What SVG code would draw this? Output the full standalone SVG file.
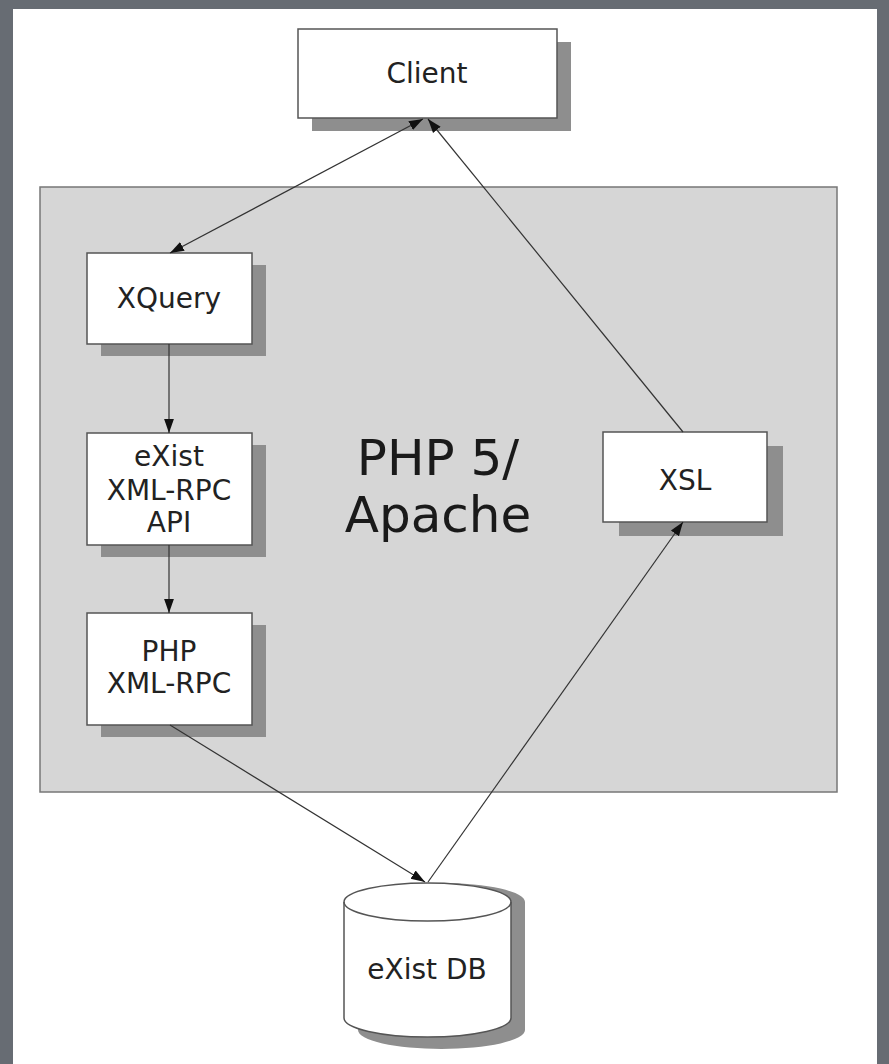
<svg xmlns="http://www.w3.org/2000/svg" width="889" height="1064" viewBox="0 0 889 1064">
<defs>
<style>
.box{fill:#ffffff;stroke:#555555;stroke-width:1.5}
.sh{fill:#8e8e8e}
.t{font-family:"DejaVu Sans",sans-serif;font-size:28px;fill:#222222;text-anchor:middle}
.big{font-family:"DejaVu Sans",sans-serif;font-size:50px;fill:#1a1a1a;text-anchor:middle}
.c{stroke:#333333;stroke-width:1.2;fill:none}
</style>
<marker id="ah" viewBox="0 0 10 10" refX="10" refY="5" markerWidth="14" markerHeight="14" markerUnits="userSpaceOnUse" orient="auto-start-reverse">
<path d="M0,1.5 L10,5 L0,8.5 Z" fill="#111111"/>
</marker>
</defs>
<rect x="0" y="0" width="889" height="1064" fill="#676c73"/>
<rect x="13" y="9" width="864" height="1055" fill="#ffffff"/>
<g id="container">
<rect x="40" y="187" width="797" height="605" fill="#d6d6d6" stroke="#777777" stroke-width="1.5"/>
<text class="big" x="438" y="475">PHP 5/</text>
<text class="big" x="438" y="532">Apache</text>
</g>
<g id="client">
<rect class="sh" x="312" y="42" width="259" height="89"/>
<rect class="box" x="298" y="29" width="259" height="89"/>
<text class="t" x="427" y="83">Client</text>
</g>
<g id="xquery">
<rect class="sh" x="101" y="265" width="165" height="91"/>
<rect class="box" x="87" y="253" width="165" height="91"/>
<text class="t" x="169" y="308">XQuery</text>
</g>
<g id="exist-api">
<rect class="sh" x="101" y="445" width="165" height="112"/>
<rect class="box" x="87" y="433" width="165" height="112"/>
<text class="t" x="169" y="466">eXist</text>
<text class="t" x="169" y="500">XML-RPC</text>
<text class="t" x="169" y="532">API</text>
</g>
<g id="php-xmlrpc">
<rect class="sh" x="101" y="625" width="165" height="112"/>
<rect class="box" x="87" y="613" width="165" height="112"/>
<text class="t" x="169" y="661">PHP</text>
<text class="t" x="169" y="693">XML-RPC</text>
</g>
<g id="xsl">
<rect class="sh" x="619" y="446" width="164" height="90"/>
<rect class="box" x="603" y="432" width="164" height="90"/>
<text class="t" x="685" y="490">XSL</text>
</g>
<g id="existdb">
<path class="sh" d="M358,902 A83.5,19 0 0 1 525,902 L525,1030 A83.5,19 0 0 1 358,1030 Z"/>
<path class="box" d="M344,902 A83.5,19 0 0 1 511,902 L511,1018 A83.5,19 0 0 1 344,1018 Z"/>
<path d="M344,902 A83.5,19 0 0 0 511,902" fill="none" stroke="#555555" stroke-width="1.5"/>
<text class="t" x="427" y="979">eXist DB</text>
</g>
<g id="connectors">
<line class="c" x1="423" y1="119" x2="170" y2="253" marker-start="url(#ah)" marker-end="url(#ah)"/>
<line class="c" x1="683" y1="432" x2="428" y2="119" marker-end="url(#ah)"/>
<line class="c" x1="169" y1="344" x2="169" y2="433" marker-end="url(#ah)"/>
<line class="c" x1="169" y1="545" x2="169" y2="613" marker-end="url(#ah)"/>
<line class="c" x1="170" y1="725" x2="425" y2="882" marker-end="url(#ah)"/>
<line class="c" x1="428" y1="882" x2="683" y2="522" marker-end="url(#ah)"/>
</g>
</svg>
